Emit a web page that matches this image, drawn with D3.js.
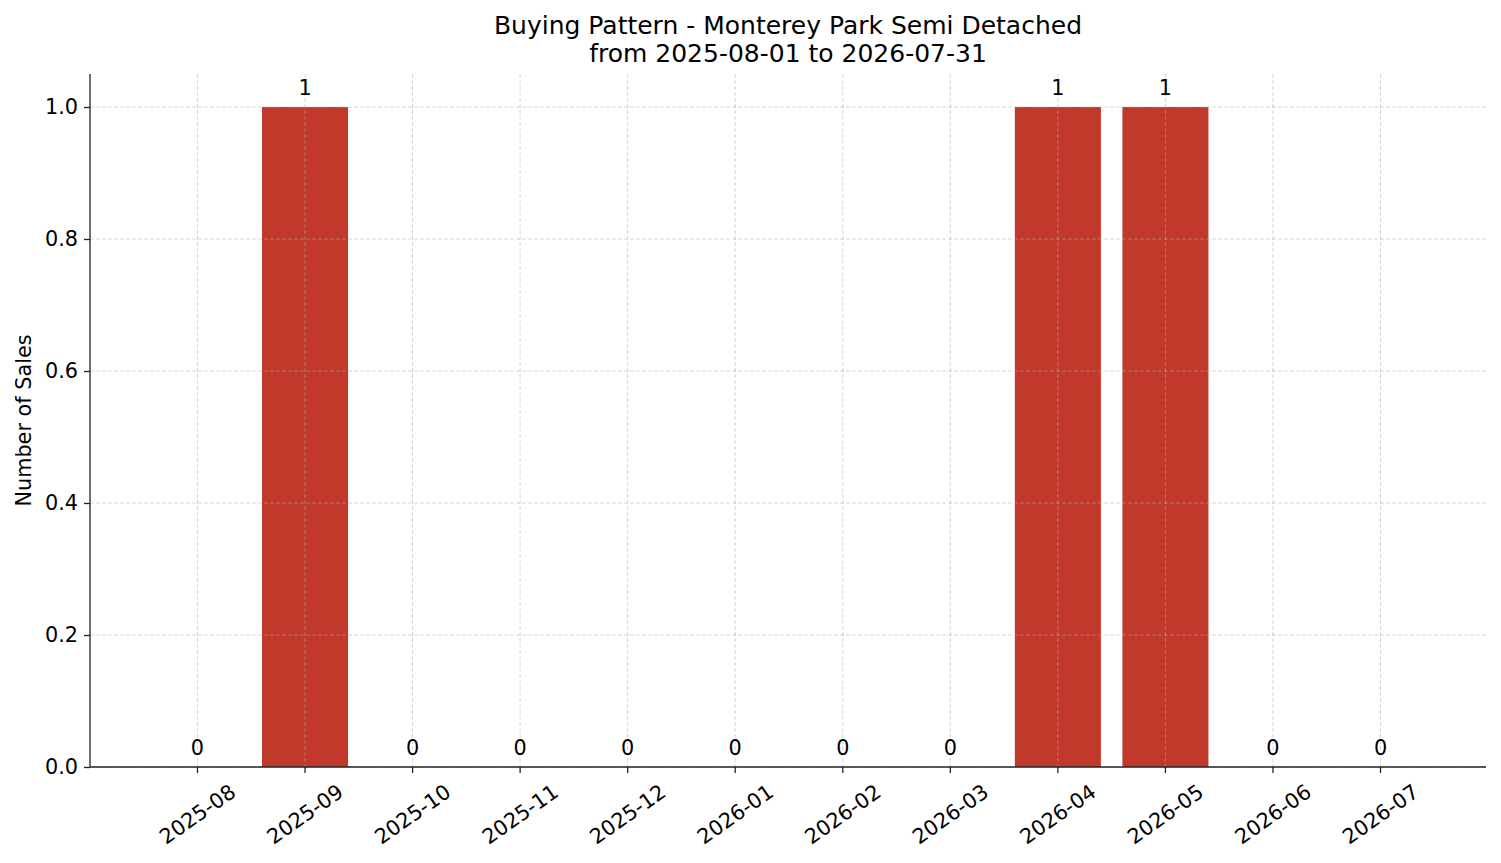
<!DOCTYPE html>
<html>
<head>
<meta charset="utf-8">
<script src="https://cdn.jsdelivr.net/npm/d3@7"></script>
<style>
  body { margin: 0; background: #fff; }
  text { font-family: "DejaVu Sans", sans-serif; fill: #000; }
</style>
</head>
<body>
<script>
const months = ["2025-08", "2025-09", "2025-10", "2025-11", "2025-12", "2026-01",
                "2026-02", "2026-03", "2026-04", "2026-05", "2026-06", "2026-07"];
const sales = [0, 1, 0, 0, 0, 0, 0, 0, 1, 1, 0, 0];
const yTicks = [0, 0.2, 0.4, 0.6, 0.8, 1.0];
const titleLines = ["Buying Pattern - Monterey Park Semi Detached", "from 2025-08-01 to 2026-07-31"];

const W = 1501, H = 863;
const margin = { top: 74, right: 15, bottom: 96, left: 90 };
const width = W - margin.left - margin.right;
const height = H - margin.top - margin.bottom;
const fs = 20.8;

const svg = d3.select("body").append("svg")
  .attr("width", W)
  .attr("height", H);

const g = svg.append("g")
  .attr("transform", "translate(" + margin.left + "," + margin.top + ")");

const x = d3.scaleBand()
  .domain(months)
  .range([1, width + 1])
  .paddingInner(0.2)
  .paddingOuter(0.59);

const y = d3.scaleLinear()
  .domain([0, 1.05])
  .range([height, 0]);

// bars
g.selectAll(".bar")
  .data(months)
  .enter().append("rect")
  .attr("class", "bar")
  .attr("x", d => x(d))
  .attr("width", x.bandwidth())
  .attr("y", (d, i) => y(sales[i]))
  .attr("height", (d, i) => height - y(sales[i]))
  .attr("fill", "#c0392b");

// grid (drawn over bars like matplotlib)
g.append("g").selectAll("line")
  .data(yTicks)
  .enter().append("line")
  .attr("x1", 0).attr("x2", width)
  .attr("y1", d => y(d)).attr("y2", d => y(d))
  .attr("stroke", "#b0b0b0").attr("stroke-opacity", 0.5)
  .attr("stroke-width", 1).attr("stroke-dasharray", "4,2");

g.append("g").selectAll("line")
  .data(months)
  .enter().append("line")
  .attr("x1", d => x(d) + x.bandwidth() / 2).attr("x2", d => x(d) + x.bandwidth() / 2)
  .attr("y1", 0).attr("y2", height)
  .attr("stroke", "#b0b0b0").attr("stroke-opacity", 0.5)
  .attr("stroke-width", 1).attr("stroke-dasharray", "4,2");

// axes
const yAxis = g.append("g")
  .call(d3.axisLeft(y).tickValues(yTicks).tickFormat(d3.format(".1f")).tickSize(6).tickPadding(6));

const xAxis = g.append("g")
  .attr("transform", "translate(0," + height + ")")
  .call(d3.axisBottom(x).tickSize(6).tickPadding(7));

[yAxis, xAxis].forEach(a => {
  a.select(".domain").attr("stroke", "#222").attr("stroke-width", 1.3);
  a.selectAll(".tick line").attr("stroke", "#222").attr("stroke-width", 1.3);
  a.selectAll(".tick text").attr("font-family", "DejaVu Sans").attr("font-size", fs).attr("fill", "#000");
});
// remove the outer ticks of the domain path
yAxis.select(".domain").attr("d", "M0," + height + "V0");
xAxis.select(".domain").attr("d", "M0,0H" + width);

// rotated month labels, bbox centred under the tick
xAxis.selectAll(".tick text").each(function () {
  const t = d3.select(this);
  const w = this.getComputedTextLength();
  const h = fs * 0.85;
  const ang = 35 * Math.PI / 180;
  const bh = w * Math.sin(ang) + h * Math.cos(ang);
  const cy = 15 + bh / 2;
  t.attr("y", cy).attr("dy", "0.35em").attr("text-anchor", "middle")
    .attr("transform", "rotate(-35,0," + cy + ")");
});

// value labels
g.selectAll(".label")
  .data(months)
  .enter().append("text")
  .attr("class", "label")
  .attr("x", d => x(d) + x.bandwidth() / 2)
  .attr("y", (d, i) => y(sales[i]) - 12.5)
  .attr("text-anchor", "middle")
  .style("font-size", fs + "px")
  .text((d, i) => sales[i]);

// y axis label
svg.append("text")
  .attr("transform", "translate(31," + (margin.top + height / 2) + ") rotate(-90)")
  .attr("text-anchor", "middle")
  .style("font-size", fs + "px")
  .text("Number of Sales");

// title
svg.selectAll(".title")
  .data(titleLines)
  .enter().append("text")
  .attr("class", "title")
  .attr("x", margin.left + width / 2)
  .attr("y", (d, i) => 34 + i * 28)
  .attr("text-anchor", "middle")
  .style("font-size", "25px")
  .text(d => d);
</script>
</body>
</html>
